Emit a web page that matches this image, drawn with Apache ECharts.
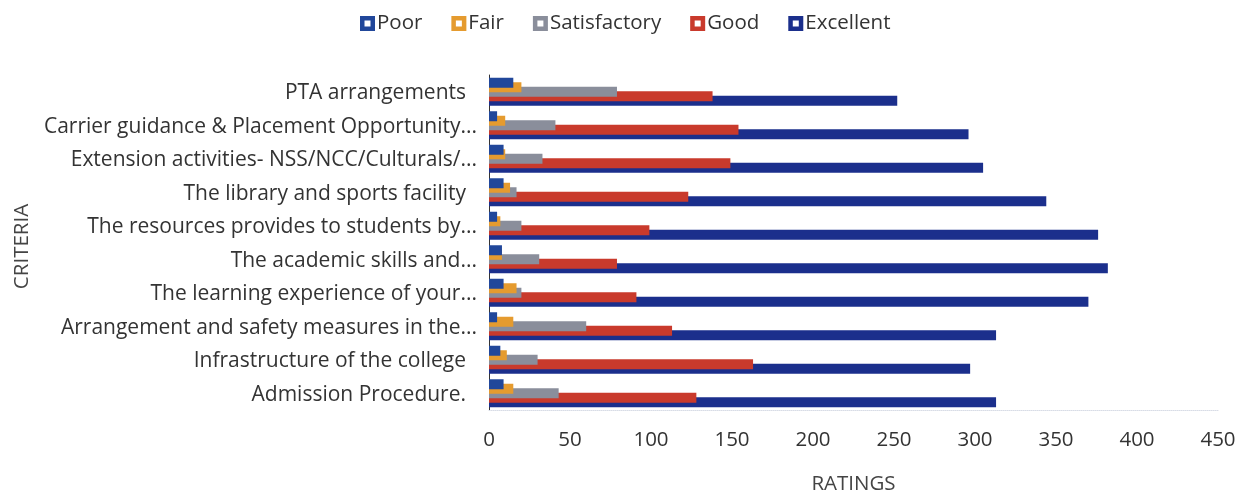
<!DOCTYPE html>
<html>
<head>
<meta charset="utf-8">
<script src="https://cdn.jsdelivr.net/npm/echarts@6/dist/echarts.min.js"></script>
<style>
html,body{margin:0;padding:0;background:#fff;}
#c{width:1251px;height:494px;}
</style>
</head>
<body>
<div id="c"></div>
<script>
const categories = [
  "PTA arrangements",
  "Carrier guidance & Placement Opportunity...",
  "Extension activities- NSS/NCC/Culturals/...",
  "The library and sports facility",
  "The resources provides to students by...",
  "The academic skills and...",
  "The learning experience of your...",
  "Arrangement and safety measures in the...",
  "Infrastructure of the college",
  "Admission Procedure."
];
const seriesNames = ["Poor", "Fair", "Satisfactory", "Good", "Excellent"];
const poor         = [15, 5, 9, 9, 5, 8, 9, 5, 7, 9];
const fair         = [20, 10, 10, 13, 7, 8, 17, 15, 11, 15];
const satisfactory = [79, 41, 33, 17, 20, 31, 20, 60, 30, 43];
const good         = [138, 154, 149, 123, 99, 79, 91, 113, 163, 128];
const excellent    = [252, 296, 305, 344, 376, 382, 370, 313, 297, 313];
const xTicks = [0, 50, 100, 150, 200, 250, 300, 350, 400, 450];

const colors = ["#21479a", "#e59b2f", "#8a8e9b", "#c93a2c", "#1b2f8c"];
const values = [poor, fair, satisfactory, good, excellent];
const FONT = "Open Sans";
const icon = 'path://M0,0H10V10H0Z M3,3V7H7V3Z';

const chart = echarts.init(document.getElementById('c'), null, {renderer: 'canvas'});
chart.setOption({
  backgroundColor: '#fff',
  animation: false,
  color: colors,
  legend: {
    data: seriesNames,
    top: 8,
    left: 355,
    icon: icon,
    itemWidth: 15,
    itemHeight: 15,
    itemGap: 29,
    textStyle: {fontFamily: FONT, fontSize: 20.5, color: '#333', padding: [0, 0, 0, -3]}
  },
  grid: {left: 489, right: 33, top: 75, bottom: 84, containLabel: false, outerBoundsMode: 'none'},
  xAxis: {
    type: 'value',
    min: 0, max: 450, interval: 50,
    name: 'RATINGS',
    nameLocation: 'middle',
    nameGap: 64,
    nameTextStyle: {fontFamily: FONT, fontSize: 20.5, color: '#444'},
    axisLine: {show: true, lineStyle: {color: '#d8dce6', type: 'dotted'}},
    axisTick: {show: false},
    splitLine: {show: false},
    axisLabel: {
      fontFamily: FONT, fontSize: 20.5, color: '#333', margin: 20,
      formatter: v => xTicks.includes(v) ? String(v) : ''
    }
  },
  yAxis: {
    type: 'category',
    inverse: true,
    data: categories,
    name: 'CRITERIA',
    nameLocation: 'middle',
    nameGap: 455,
    nameRotate: 90,
    nameTextStyle: {fontFamily: FONT, fontSize: 20.5, color: '#444', padding: [0, 8, 0, 0]},
    axisLine: {show: true, lineStyle: {color: '#333', width: 1}},
    axisTick: {show: false},
    axisLabel: {
      fontFamily: FONT, fontSize: 21, color: '#333', margin: 12,
      padding: [3, 0, 0, 0],
      formatter: v => v.endsWith('...') ? v : '{p|' + v + '}',
      rich: {p: {fontFamily: FONT, fontSize: 21, color: '#333', padding: [0, 11, 0, 0]}}
    }
  },
  series: seriesNames.map((n, i) => ({
    name: n,
    type: 'bar',
    data: values[i],
    barWidth: 10,
    barGap: '-55%',
    z: 10 - i,
    itemStyle: {color: colors[i]}
  }))
});
</script>
</body>
</html>
